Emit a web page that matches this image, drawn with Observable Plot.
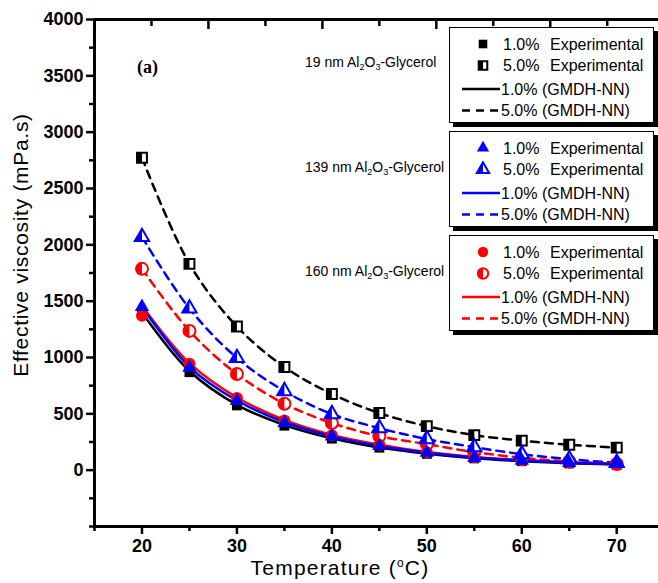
<!DOCTYPE html>
<html>
<head>
<meta charset="utf-8">
<script src="https://cdn.jsdelivr.net/npm/d3@7"></script>
<script src="https://cdn.jsdelivr.net/npm/@observablehq/plot@0.6"></script>
<style>
  body { margin: 0; background: #fff; }
  #chart { position: relative; width: 658px; height: 583px; font-family: "Liberation Sans", Arial, sans-serif; }
  #chart > svg.plot { position: absolute; left: 0; top: 0; }
  .note { position: absolute; font-size: 14px; white-space: nowrap; color: #000; }
  .note sub { font-size: 9px; vertical-align: -3px; line-height: 0; }
  .tag { position: absolute; font-family: "Liberation Serif", "Times New Roman", serif; font-weight: bold; font-size: 18px; }
  .ytitle { position: absolute; font-size: 21px; letter-spacing: 0.7px; white-space: nowrap; transform: translate(-50%, -50%) rotate(-90deg); }
  .xtitle { position: absolute; font-size: 21px; letter-spacing: 1.2px; white-space: nowrap; transform: translate(-50%, -50%); }
  .xtitle sup { font-size: 12px; vertical-align: 8px; line-height: 0; }
  .lbox { position: absolute; background: #fff; border: 1.5px solid #000; box-shadow: 4px 4px 0 #000; }
  .lbox svg { display: block; }
</style>
</head>
<body>
<div id="chart"></div>
<script>
// Temperature (°C)
const temps = [20, 25, 30, 35, 40, 45, 50, 55, 60, 65, 70];

// Effective viscosity (mPa.s), experimental
const exp19_1 = [1390, 870, 575, 395, 280, 200, 145, 105, 80, 60, 48];
const exp19_5 = [2773, 1831, 1275, 916, 676, 507, 391, 311, 262, 226, 200];
const exp139_1 = [1450, 910, 615, 420, 300, 215, 155, 110, 85, 65, 55];
const exp139_5 = [2070, 1435, 996, 702, 498, 373, 276, 204, 142, 98, 65];
const exp160_1 = [1370, 945, 640, 440, 310, 225, 160, 115, 88, 68, 55];
const exp160_5 = [1787, 1236, 853, 590, 418, 302, 231, 160, 110, 78, 55];

// Effective viscosity (mPa.s), GMDH-NN model
const gmdh19_1 = [1400, 880, 580, 400, 282, 200, 146, 106, 80, 62, 50];
const gmdh19_5 = [2773, 1831, 1275, 916, 676, 507, 391, 311, 262, 226, 200];
const gmdh139_1 = [1450, 915, 618, 425, 300, 215, 155, 112, 86, 66, 55];
const gmdh139_5 = [2070, 1435, 996, 702, 498, 373, 276, 204, 142, 98, 65];
const gmdh160_1 = [1460, 950, 645, 445, 312, 225, 162, 118, 90, 70, 57];
const gmdh160_5 = [1787, 1236, 853, 590, 418, 302, 231, 160, 110, 78, 55];

// Axis ticks
const xMajor = [20, 30, 40, 50, 60, 70];
const xMinor = [15, 25, 35, 45, 55, 65];
const topMajor = [27, 39, 51, 63];
const topMinor = [21, 33, 45, 57, 69];
const yMajor = [0, 500, 1000, 1500, 2000, 2500, 3000, 3500, 4000];
const yMinor = [-500, -250, 250, 750, 1250, 1750, 2250, 2750, 3250, 3750];

// Left-half symbols for the 5.0% markers
const sqrt3 = Math.sqrt(3);
const halfSquare = { draw(ctx, size) { const w = Math.sqrt(size); ctx.rect(-w / 2, -w / 2, w / 2, w); } };
const halfTriangle = { draw(ctx, size) {
  const y = -Math.sqrt(size / (sqrt3 * 3));
  ctx.moveTo(0, y * 2); ctx.lineTo(0, -y); ctx.lineTo(sqrt3 * y, -y); ctx.closePath();
} };
const halfCircle = { draw(ctx, size) {
  const r = Math.sqrt(size / Math.PI);
  ctx.moveTo(0, -r); ctx.arc(0, 0, r, -Math.PI / 2, Math.PI / 2, true); ctx.closePath();
} };

const groups = [
  { name: "19", color: "#000000", symbol: "square", half: halfSquare, r: 5.6, e1: exp19_1, e5: exp19_5, m1: gmdh19_1, m5: gmdh19_5 },
  { name: "160", color: "#ff0000", symbol: "circle", half: halfCircle, r: 6, e1: exp160_1, e5: exp160_5, m1: gmdh160_1, m5: gmdh160_5 },
  { name: "139", color: "#0000ff", symbol: "triangle", half: halfTriangle, r: 5.3, e1: exp139_1, e5: exp139_5, m1: gmdh139_1, m5: gmdh139_5 }
];
const rowsOf = (vals) => temps.map((t, i) => ({ t, v: vals[i] }));

const tickFont = { fontSize: 18, fontWeight: "bold", fontFamily: "'Liberation Sans', Arial, sans-serif", tickFormat: (d) => String(d) };

const marks = [];
// model curves
for (const g of groups) {
  marks.push(Plot.line(rowsOf(g.m5), { x: "t", y: "v", stroke: g.color, strokeWidth: 2.5, strokeDasharray: "8,6", curve: "catmull-rom" }));
}
for (const g of groups) {
  marks.push(Plot.line(rowsOf(g.m1), { x: "t", y: "v", stroke: g.color, strokeWidth: 2.5, curve: "catmull-rom" }));
}
// experimental points
for (const g of groups) {
  marks.push(Plot.dot(rowsOf(g.e5), { x: "t", y: "v", symbol: g.symbol, r: g.r, fill: "#fff", stroke: g.color, strokeWidth: 2 }));
  marks.push(Plot.dot(rowsOf(g.e5), { x: "t", y: "v", symbol: g.half, r: g.r, fill: g.color }));
  marks.push(Plot.dot(rowsOf(g.e1), { x: "t", y: "v", symbol: g.symbol, r: g.r, fill: g.color }));
}
// frame
marks.push(
  Plot.ruleX([15], { stroke: "#000", strokeWidth: 3 }),
  Plot.ruleY([-500], { stroke: "#000", strokeWidth: 3 }),
  Plot.ruleY([4000], { stroke: "#000", strokeWidth: 3 }),
  Plot.axisY(yMajor, { anchor: "left", tickSize: 8, tickPadding: 3, strokeWidth: 2.5, label: null, ...tickFont }),
  Plot.axisY(yMinor, { anchor: "left", tickSize: 5, strokeWidth: 2.5, tickFormat: () => "", label: null }),
  Plot.axisX(xMajor, { anchor: "bottom", tickSize: 8, tickPadding: 5, strokeWidth: 2.5, label: null, ...tickFont }),
  Plot.axisX(xMinor, { anchor: "bottom", tickSize: 5, strokeWidth: 2.5, tickFormat: () => "", label: null }),
  Plot.axisX(topMajor, { anchor: "top", tickSize: -9, strokeWidth: 2.5, tickFormat: () => "", label: null }),
  Plot.axisX(topMinor, { anchor: "top", tickSize: -6, strokeWidth: 2.5, tickFormat: () => "", label: null })
);

const chart = Plot.plot({
  width: 658,
  height: 583,
  marginLeft: 94,
  marginRight: 0,
  marginTop: 19,
  marginBottom: 57,
  style: { background: "#fff", color: "#000" },
  x: { domain: [15, 74.4], axis: null },
  y: { domain: [-500, 4000], axis: null },
  marks
});

const root = document.getElementById("chart");
root.appendChild(chart);

// titles and annotations
function addHTML(cls, html, left, top) {
  const el = document.createElement("div");
  el.className = cls;
  el.innerHTML = html;
  el.style.left = left + "px";
  el.style.top = top + "px";
  root.appendChild(el);
  return el;
}
addHTML("ytitle", "Effective viscosity (mPa.s)", 21, 245);
addHTML("xtitle", "Temperature (<sup>o</sup>C)", 340, 568);
addHTML("tag", "(a)", 137, 57);
addHTML("note", "19 nm Al<sub>2</sub>O<sub>3</sub>-Glycerol", 305, 54);
addHTML("note", "139 nm Al<sub>2</sub>O<sub>3</sub>-Glycerol", 305, 159);
addHTML("note", "160 nm Al<sub>2</sub>O<sub>3</sub>-Glycerol", 305, 263);

// legend boxes
const legendBoxes = [
  { top: 27, group: groups[0] },
  { top: 131, group: groups[2] },
  { top: 235, group: groups[1] }
];
const rowsY = [16, 37.5, 61, 82.5];
for (const box of legendBoxes) {
  const g = box.group;
  const div = document.createElement("div");
  div.className = "lbox";
  div.style.left = "449px";
  div.style.top = box.top + "px";
  div.style.width = "203px";
  div.style.height = "94px";
  root.appendChild(div);
  const svg = d3.select(div).append("svg").attr("width", 203).attr("height", 94)
    .style("font-family", "'Liberation Sans', Arial, sans-serif").style("font-size", "16px");
  const symType = g.symbol === "square" ? d3.symbolSquare : g.symbol === "circle" ? d3.symbolCircle : d3.symbolTriangle;
  const size = Math.PI * g.r * g.r * 0.75;
  svg.append("path").attr("d", d3.symbol(symType, size)()).attr("transform", `translate(33,${rowsY[0]})`).attr("fill", g.color);
  svg.append("path").attr("d", d3.symbol(symType, size)()).attr("transform", `translate(33,${rowsY[1]})`).attr("fill", "#fff").attr("stroke", g.color).attr("stroke-width", 2);
  svg.append("path").attr("d", d3.symbol(g.half, size)()).attr("transform", `translate(33,${rowsY[1]})`).attr("fill", g.color);
  svg.append("line").attr("x1", 12).attr("x2", 50).attr("y1", rowsY[2]).attr("y2", rowsY[2]).attr("stroke", g.color).attr("stroke-width", 2.5);
  svg.append("line").attr("x1", 12).attr("x2", 50).attr("y1", rowsY[3]).attr("y2", rowsY[3]).attr("stroke", g.color).attr("stroke-width", 2.5).attr("stroke-dasharray", "8,6");
  const labels = [["1.0%", "Experimental"], ["5.0%", "Experimental"], ["1.0% (GMDH-NN)"], ["5.0% (GMDH-NN)"]];
  labels.forEach((parts, i) => {
    svg.append("text").attr("x", i < 2 ? 53 : 51).attr("y", rowsY[i]).attr("dy", "0.36em").text(parts[0]);
    if (parts[1]) svg.append("text").attr("x", 100).attr("y", rowsY[i]).attr("dy", "0.36em").text(parts[1]);
  });
}
</script>
</body>
</html>
